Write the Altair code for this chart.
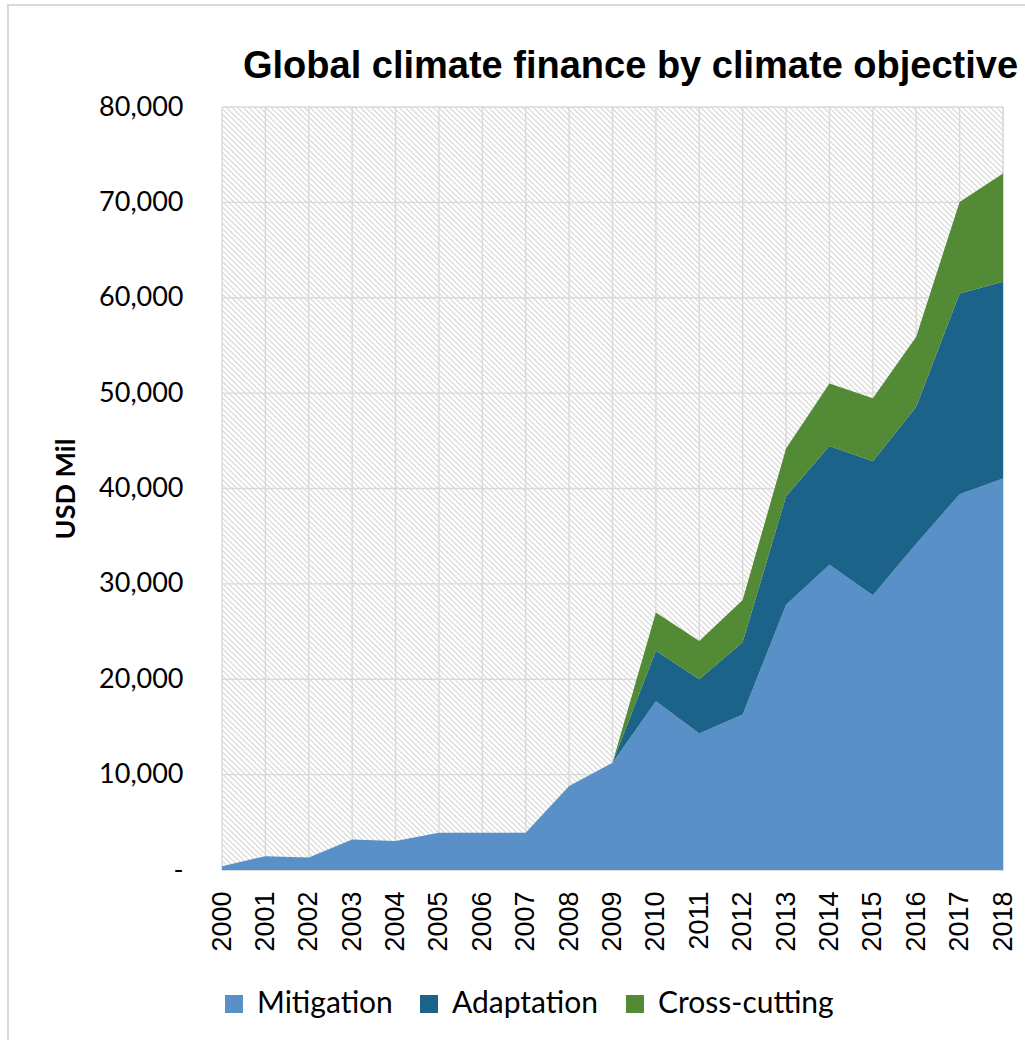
import altair as alt
import pandas as pd

# ---- data ----
years = list(range(2000, 2019))
mitigation = [400, 1450, 1300, 3200, 3050, 3900, 3900, 3900, 8800, 11250,
              17700, 14300, 16300, 27800, 32000, 28800, 34200, 39400, 41050]
adaptation = [0, 0, 0, 0, 0, 0, 0, 0, 0, 0,
              5300, 5700, 7570, 11400, 12450, 14070, 14360, 21050, 20620]
cross_cutting = [0, 0, 0, 0, 0, 0, 0, 0, 0, 0,
                 4000, 4000, 4430, 5000, 6570, 6580, 7340, 9600, 11360]
series = ["Mitigation", "Adaptation", "Cross-cutting"]
colors = ["#5990C7", "#1B6389", "#538A35"]
y_ticks = [0, 10000, 20000, 30000, 40000, 50000, 60000, 70000, 80000]
title_text = "Global climate finance by climate objective"
y_title = "USD Mil"

rows = []
for i, y in enumerate(years):
    for k, (name, vals) in enumerate(zip(series, [mitigation, adaptation, cross_cutting])):
        rows.append({"year": y, "series": name, "value": vals[i], "order": k})
df = pd.DataFrame(rows)

W, H = 781, 763
GRID = "#d9d9d9"

xscale = alt.Scale(domain=[2000, 2018], nice=False, zero=False)
yscale = alt.Scale(domain=[0, 80000], nice=False)

x_axis = alt.Axis(values=years, format="d", labelAngle=270,
                  labelFont="Liberation Sans", labelFontSize=27,
                  labelColor="black", labelPadding=21,
                  ticks=False, domain=False, grid=False,
                  labelOverlap=False, labelBound=False, labelFlush=False)
y_axis = alt.Axis(values=y_ticks,
                  labelExpr="datum.value == 0 ? '-\u00a0\u00a0' : format(datum.value, ',')",
                  labelFont="Lato", labelFontSize=27, labelColor="black",
                  labelPadding=39, ticks=False, domain=False, grid=False,
                  labelOverlap=False,
                  titleFont="Lato", titleFontSize=27, titleFontWeight="bold",
                  titleColor="black", titleAngle=270, titleX=-156,
                  titleY=H / 2, titleAlign="center", titleBaseline="middle")

# diagonal hatch approximated by a striped linear gradient
N = 280
stops = []
for k in range(N):
    stops.append(alt.GradientStop(offset=k / N, color="#ffffff"))
    stops.append(alt.GradientStop(offset=(k + 0.4) / N, color="#ffffff"))
    stops.append(alt.GradientStop(offset=(k + 0.7) / N, color="#d6d6d6"))
stops.append(alt.GradientStop(offset=1.0, color="#ffffff"))
hatch = alt.LinearGradient(gradient="linear", stops=stops, x1=0, y1=1, x2=1, y2=0)

one = alt.Data(values=[{"a": 1}])

bg = alt.Chart(one).mark_rect(fill=hatch).encode(
    x=alt.value(0), x2=alt.value(W), y=alt.value(0), y2=alt.value(H)
)

vgrid = alt.Chart(pd.DataFrame({"year": years})).mark_rule(
    color=GRID, strokeWidth=1.4
).encode(x=alt.X("year:Q", scale=xscale, title=None, axis=x_axis))

hgrid = alt.Chart(pd.DataFrame({"value": y_ticks})).mark_rule(
    color=GRID, strokeWidth=1.4
).encode(y=alt.Y("value:Q", scale=yscale, title=y_title, axis=y_axis))

areas = alt.Chart(df).mark_area(opacity=1).encode(
    x=alt.X("year:Q", scale=xscale, title=None, axis=x_axis),
    y=alt.Y("value:Q", stack="zero", scale=yscale, title=y_title, axis=y_axis),
    color=alt.Color("series:N",
                    scale=alt.Scale(domain=series, range=colors),
                    legend=alt.Legend(orient="none", legendX=-3, legendY=882,
                                      direction="horizontal", title=None,
                                      symbolType="square", symbolSize=324,
                                      symbolStrokeWidth=0, symbolOpacity=1,
                                      labelFont="Lato", labelFontSize=30,
                                      labelColor="black", labelOffset=8,
                                      columnPadding=21, labelLimit=400)),
    order=alt.Order("order:Q", sort="ascending"),
)

outer = alt.Chart(one).mark_rect(fillOpacity=0, stroke=GRID, strokeWidth=2).encode(
    x=alt.value(-214), x2=alt.value(W + 300), y=alt.value(-102), y2=alt.value(H + 400)
)

chart = alt.layer(bg, vgrid, hgrid, areas, outer).properties(
    width=W, height=H,
    autosize=alt.AutoSizeParams(type="none"),
    padding={"left": 222, "top": 107, "right": 22, "bottom": 170},
    title=alt.TitleParams(title_text, anchor="start", dx=236, font="Liberation Sans",
                          fontSize=38, fontWeight="bold", color="black",
                          baseline="alphabetic", offset=-112),
).configure_view(stroke=GRID, strokeWidth=1.5).configure(background="white")

chart.save("out.html", embed_options={"renderer": "svg", "actions": False})
